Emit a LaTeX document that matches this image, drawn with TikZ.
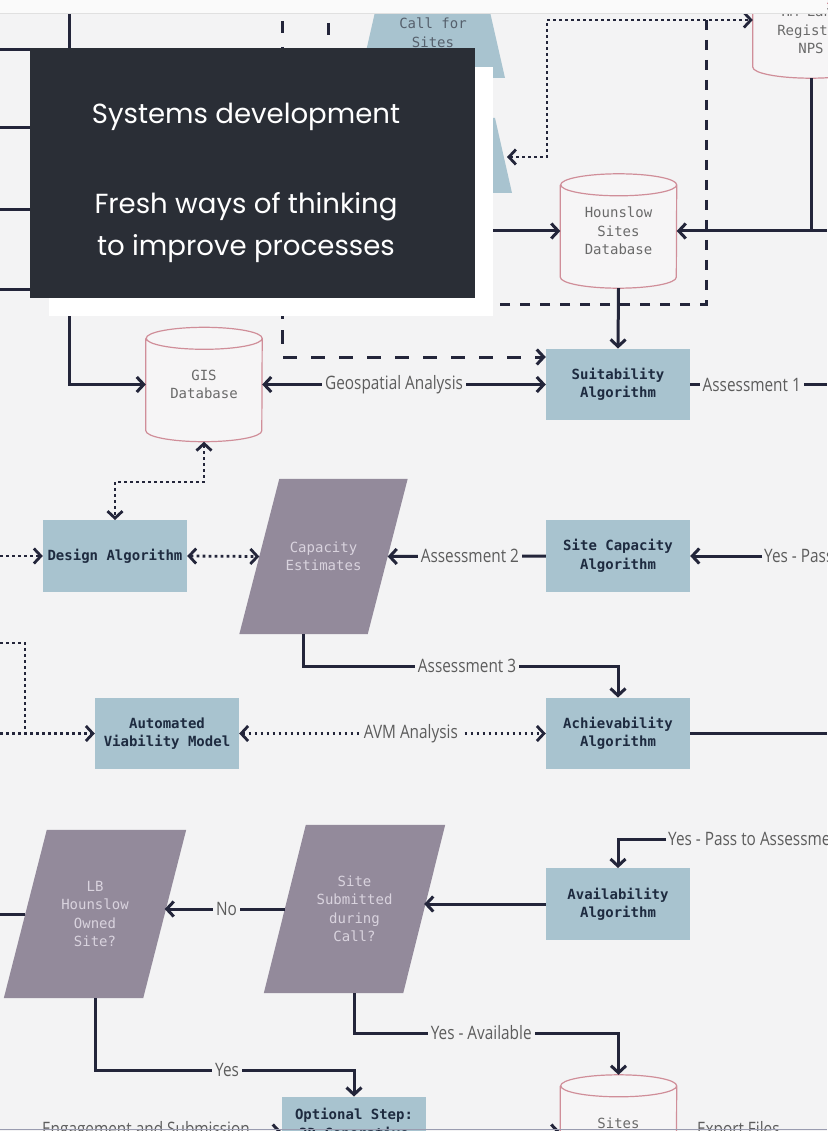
\documentclass[tikz,border=0pt]{standalone}
\usepackage{fontspec}
\setmainfont{Open Sans}
\newfontfamily\titlefont{Poppins}
\newfontfamily\lblfont[FakeStretch=0.83]{Open Sans}
\newfontfamily\dmono{DejaVu Sans Mono}
\usetikzlibrary{arrows.meta,shapes.geometric,calc}
\pgfdeclarelayer{bglayer}
\pgfdeclarelayer{front}
\pgfsetlayers{bglayer,main,front}
\definecolor{bg}{HTML}{F3F3F4}
\definecolor{ink}{HTML}{23253A}
\definecolor{boxblue}{HTML}{A8C3CF}
\definecolor{boxtext}{HTML}{1E2B40}
\definecolor{parafill}{HTML}{938A9B}
\definecolor{paratext}{HTML}{D9D3DE}
\definecolor{dbline}{HTML}{D08E99}
\definecolor{dbfill}{HTML}{F6F5F6}
\definecolor{dbtext}{HTML}{6A6A6A}
\definecolor{lbltext}{HTML}{5C5C5C}
\definecolor{panel}{HTML}{2A2E36}
\definecolor{cfstext}{HTML}{56606C}
\definecolor{edgeline}{HTML}{9A9CB0}
\tikzset{
 >={Straight Barb[length=7pt,width=15pt]},
 conn/.style={draw=ink,line width=3pt},
 dashconn/.style={conn,dash pattern=on 12pt off 11pt},
 dotconn/.style={conn,line width=2.8pt,dash pattern=on 2.8pt off 3.2pt},
 algbox/.style={rectangle,fill=boxblue,minimum width=144pt,minimum height=71.5pt,inner sep=2pt,align=center,text=boxtext,font=\dmono\bfseries\fontsize{14}{18.5}\selectfont},
 dbnode/.style={rectangle,minimum width=116pt,minimum height=114pt,inner sep=0pt,align=center,text=dbtext,font=\dmono\fontsize{14}{18.5}\selectfont},
 parabox/.style={rectangle,text=paratext,align=center,inner sep=0pt,font=\dmono\fontsize{14}{18.5}\selectfont},
 lbl/.style={fill=bg,text=lbltext,inner xsep=3pt,inner ysep=1pt,font=\lblfont\fontsize{18.5}{20}\selectfont},
}
\newcommand\dbcyl[1]{%
 \begin{pgfonlayer}{bglayer}
 \draw[draw=dbline,line width=1.2pt,fill=dbfill] ([yshift=-11pt]#1.north west) -- ([yshift=11pt]#1.south west) arc[start angle=180,end angle=360,x radius=58pt,y radius=11pt] -- ([yshift=-11pt]#1.north east) arc[start angle=0,end angle=180,x radius=58pt,y radius=11pt] arc[start angle=180,end angle=360,x radius=58pt,y radius=11pt];
 \end{pgfonlayer}}
% parallelogram drawn round a rectangle node; #2 = half of the slant offset
\newcommand\pgram[2]{%
 \begin{pgfonlayer}{bglayer}
 \fill[parafill] ([xshift=#2]#1.north west) -- ([xshift=#2]#1.north east) -- ([xshift=-#2]#1.south east) -- ([xshift=-#2]#1.south west) -- cycle;
 \end{pgfonlayer}}
\begin{document}
\begin{tikzpicture}[x=1pt,y=-1pt]
\useasboundingbox (0,0) rectangle (827,1131);
\clip (0,0) rectangle (827,1131);
\begin{pgfonlayer}{bglayer}
\fill[bg] (0,0) rectangle (827,1131);
\end{pgfonlayer}

% light blue trapezoids
\fill[boxblue] (380,-10) -- (485,-10) -- (505,78) -- (360,78) -- cycle;
\node[text=cfstext,align=center,font=\dmono\fontsize{14}{18.5}\selectfont] (cfs) at (433,32.5) {Call for\\Sites};
\fill[boxblue] (372,118) -- (495,118) -- (512,193) -- (355,193) -- cycle;
\coordinate (t5) at (507,157);

% databases
\node[dbnode,minimum height=96pt] (reg) at (811,30) {HM Land\\Registry\\NPS}; \dbcyl{reg}
\node[dbnode] (hsd) at (618.5,231) {Hounslow\\Sites\\Database}; \dbcyl{hsd}
\node[dbnode] (gis) at (204,384.5) {GIS\\Database}; \dbcyl{gis}
\node[dbnode] (sites) at (618.5,1132) {Sites\\\mbox{}}; \dbcyl{sites}

% algorithm boxes
\node[algbox] (suit) at (618,384.5) {Suitability\\Algorithm};
\node[algbox] (scap) at (618,556) {Site Capacity\\Algorithm};
\node[algbox] (ach) at (618,733.5) {Achievability\\Algorithm};
\node[algbox] (avail) at (618,904) {Availability\\Algorithm};
\node[algbox] (design) at (115,556) {Design Algorithm};
\node[algbox] (avm) at (167,733.5) {Automated\\Viability Model};
\node[algbox] (opt) at (354,1132.5) {Optional Step:\\3D Generative\\\mbox{}};

% parallelograms
\node[parabox,minimum width=128pt,minimum height=155pt] (ce) at (323.5,556.5) {Capacity\\Estimates}; \pgram{ce}{20pt}
\node[parabox,minimum width=139pt,minimum height=168pt] (ssc) at (354.5,909) {Site\\Submitted\\during\\Call?}; \pgram{ssc}{21pt}
\node[parabox,minimum width=139pt,minimum height=168pt] (lbh) at (95,914) {LB\\Hounslow\\Owned\\Site?}; \pgram{lbh}{21.5pt}

% helper coordinates
\coordinate (t1) at (69,0);
\coordinate (t2) at (282,0);
\coordinate (t3) at (328,0);
\coordinate (t4) at (706,0);
\coordinate (d2) at (0,357);
\coordinate (d3) at (282,304);
\coordinate (l8) at (440,231);
\coordinate (e6) at (827,231);
\coordinate (e1) at (827,384.5);
\coordinate (e2) at (762,556);
\coordinate (e3) at (827,733.5);
\coordinate (e4) at (666,839);
\coordinate (e5) at (827,1132);
\coordinate (a3) at (0,666);
\coordinate (a5) at (0,1070);
\coordinate (a6) at (0,1033);
\coordinate (d1) at (0,482);
\coordinate (l4) at (0,556);
\coordinate (l5) at (0,733.5);
\coordinate (l6) at (0,643);
\coordinate (l6b) at (25,643);
\coordinate (l7) at (0,1132);
\coordinate (c1) at (547,157);
\coordinate (c2) at (547,20);
\coordinate (ces) at ([xshift=-20pt]ce.south);

% left solid lines
\foreach \yy [count=\i] in {50,128,210,290} {\coordinate (h\i) at (0,\yy); \draw[conn] (h\i) -- (h\i -| t1);}
\draw[conn,->] (t1) |- (gis.west);

% dashed lines
\draw[dashconn,dash pattern=on 12pt off 14pt,dash phase=5pt] (t2) -- (282,330);
\draw[dashconn,->,dash pattern=on 14pt off 14pt] (282,330) |- (suit.west |- d2);
\draw[dashconn,dash pattern=on 12pt off 14pt,dash phase=3pt] (t3) -- ++(0,60);
\draw[dashconn,dash pattern=on 10pt off 10pt] (t4) |- (d3);

% dotted top
\draw[dotconn,<->] (t5) -- (c1) -- (c2) -- (reg.west |- c2);

% Hounslow connections
\draw[conn,->] (l8) -- (hsd.west);
\draw[conn,->] (e6) -- (hsd.east);
\draw[conn] (reg.south) -- (reg.south |- hsd.east);
\draw[conn,->] (hsd.south) -- (suit.north);

% suitability
\draw[conn,<->] (gis.east) -- node[lbl,pos=.465]{Geospatial Analysis} (suit.west);
\draw[conn] (suit.east) -- node[lbl,pos=.45]{Assessment 1} (e1);

% site capacity
\draw[conn,->] (e2) -- (scap.east);
\node[lbl,anchor=west,fill=none,inner xsep=2pt] (y2) at (e2) {Yes - Pass to Assessment 2};
\draw[conn,->] (scap.west) -- node[lbl,pos=.48]{Assessment 2} (ce.east);
\draw[dotconn,<->] (design.east) -- (ce.west);
\draw[dotconn,->] (l4) -- (design.west);
\draw[dotconn,<->] (gis.south) -- (gis.south |- d1) -- (design.north |- d1) -- (design.north);

% achievability
\draw[conn,->] (ces) -- (ces |- a3) -- node[lbl,pos=.52]{Assessment 3} (ach.north |- a3) -- (ach.north);
\draw[conn] (ach.east) -- (e3);
\draw[dotconn,<->] (avm.east) -- node[lbl,pos=.56]{AVM Analysis} (ach.west);
\draw[dotconn,->] (l5) -- (avm.west);
\draw[dotconn] (l6) -- (l6b) -- (l6b |- avm.west);

% availability
\draw[conn,->] (e4) -| (avail.north);
\node[lbl,anchor=west,fill=none,inner xsep=2pt] (y4) at (e4) {Yes - Pass to Assessment 4};
\draw[conn,->] (avail.west) -- (avail.west -| ssc.east);
\draw[conn,->] (ssc.west) -- node[lbl,pos=.485]{No} (ssc.west -| lbh.east);
\draw[conn] (lbh.west) -- (lbh.west -| l7);
\draw[conn,->] (lbh.south) -- (lbh.south |- a5) -- node[lbl,pos=.51]{Yes} (opt.north |- a5) -- (opt.north);
\draw[conn,->] (ssc.south) -- (ssc.south |- a6) -- node[lbl,pos=.48]{Yes - Available} (sites.north |- a6) -- (sites.north);

% bottom row
\draw[conn,->] (l7) -- node[lbl,pos=.518,yshift=1.5pt]{Engagement and Submission} (l7 -| opt.west);
\draw[conn,->] (opt.east |- l7) -- (sites.west |- l7);
\draw[conn] (sites.east |- l7) -- node[lbl,pos=.41,yshift=1.5pt]{Export Files} (e5);

% overlay panel
\begin{pgfonlayer}{front}
\fill[white!55!bg] (0,0) rectangle (827,13);
\draw[black!12,line width=0.8pt] (0,13) -- (827,13);
\draw[edgeline,line width=1.3pt] (0,1129.8) -- (827,1129.8);
\fill[white] (49,67) rectangle (493,316);
\node[fill=panel,minimum width=445pt,minimum height=250pt,inner sep=0pt] (panelbox) at (252.5,173) {};
\node[text=white,align=center,font=\titlefont\fontsize{27.6}{42}\selectfont] (title) at (246,183) {Systems development\\[48pt]Fresh ways of thinking\\to improve processes};
\end{pgfonlayer}
\end{tikzpicture}
\end{document}
